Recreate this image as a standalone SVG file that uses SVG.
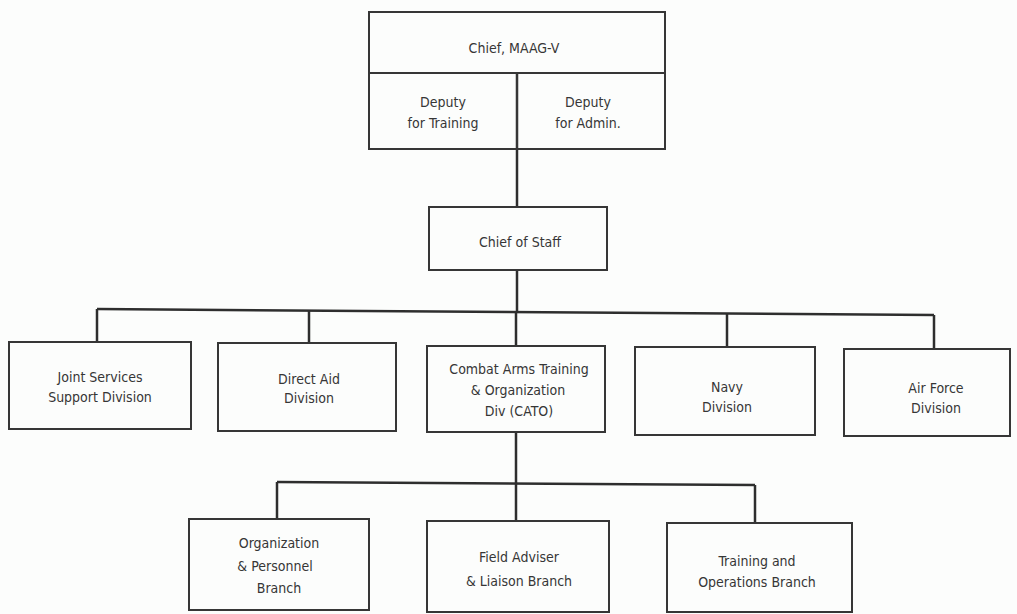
<svg xmlns="http://www.w3.org/2000/svg" width="1017" height="614" viewBox="0 0 1017 614">
<style>
.bg{fill:#fcfdfc}
.box{fill:none;stroke:#363636;stroke-width:2}
.con{fill:none;stroke:#2e2e2e;stroke-width:2.5}
text{font-family:"DejaVu Sans Condensed","Liberation Sans",sans-serif;font-size:14px;fill:#363636;text-anchor:middle}
</style>
<rect class="bg" x="0" y="0" width="1017" height="614"/>
<g id="connectors">
<line class="con" x1="517" y1="73" x2="517" y2="207"/>
<line class="con" x1="517" y1="270" x2="517" y2="312"/>
<line class="con" x1="97" y1="309" x2="934" y2="315"/>
<line class="con" x1="97" y1="309" x2="97" y2="342"/>
<line class="con" x1="309" y1="310.5" x2="309" y2="343"/>
<line class="con" x1="516" y1="312" x2="516" y2="346"/>
<line class="con" x1="727" y1="313.5" x2="727" y2="347"/>
<line class="con" x1="934" y1="315" x2="934" y2="349"/>
<line class="con" x1="516" y1="432" x2="516" y2="483"/>
<line class="con" x1="277" y1="482" x2="755" y2="485"/>
<line class="con" x1="277" y1="482" x2="277" y2="519"/>
<line class="con" x1="516" y1="483.5" x2="516" y2="521"/>
<line class="con" x1="755" y1="485" x2="755" y2="523"/>
</g>
<g id="chief">
<rect class="box" x="369" y="12" width="296" height="61"/>
<text x="514" y="53">Chief, MAAG-V</text>
</g>
<g id="deputy-training">
<rect class="box" x="369" y="73" width="148" height="76"/>
<text x="443" y="107">Deputy</text>
<text x="443" y="128">for Training</text>
</g>
<g id="deputy-admin">
<rect class="box" x="517" y="73" width="148" height="76"/>
<text x="588" y="107">Deputy</text>
<text x="588" y="128">for Admin.</text>
</g>
<g id="chief-of-staff">
<rect class="box" x="429" y="207" width="178" height="63"/>
<text x="520" y="247">Chief of Staff</text>
</g>
<g id="joint-services">
<rect class="box" x="9" y="342" width="182" height="87"/>
<text x="100" y="382">Joint Services</text>
<text x="100" y="402">Support Division</text>
</g>
<g id="direct-aid">
<rect class="box" x="218" y="343" width="178" height="88"/>
<text x="309" y="384">Direct Aid</text>
<text x="309" y="403">Division</text>
</g>
<g id="cato">
<rect class="box" x="427" y="346" width="178" height="86"/>
<text x="519" y="374">Combat Arms Training</text>
<text x="518" y="395">&amp; Organization</text>
<text x="519" y="416">Div (CATO)</text>
</g>
<g id="navy">
<rect class="box" x="635" y="347" width="180" height="88"/>
<text x="727" y="392">Navy</text>
<text x="727" y="412">Division</text>
</g>
<g id="air-force">
<rect class="box" x="844" y="349" width="166" height="87"/>
<text x="936" y="393">Air Force</text>
<text x="936" y="413">Division</text>
</g>
<g id="org-personnel">
<rect class="box" x="189" y="519" width="180" height="91"/>
<text x="279" y="548">Organization</text>
<text x="275" y="571">&amp; Personnel</text>
<text x="279" y="593">Branch</text>
</g>
<g id="field-adviser">
<rect class="box" x="427" y="521" width="182" height="91"/>
<text x="519" y="562">Field Adviser</text>
<text x="519" y="586">&amp; Liaison Branch</text>
</g>
<g id="training-ops">
<rect class="box" x="667" y="523" width="185" height="89"/>
<text x="757" y="566">Training and</text>
<text x="757" y="587">Operations Branch</text>
</g>
</svg>
